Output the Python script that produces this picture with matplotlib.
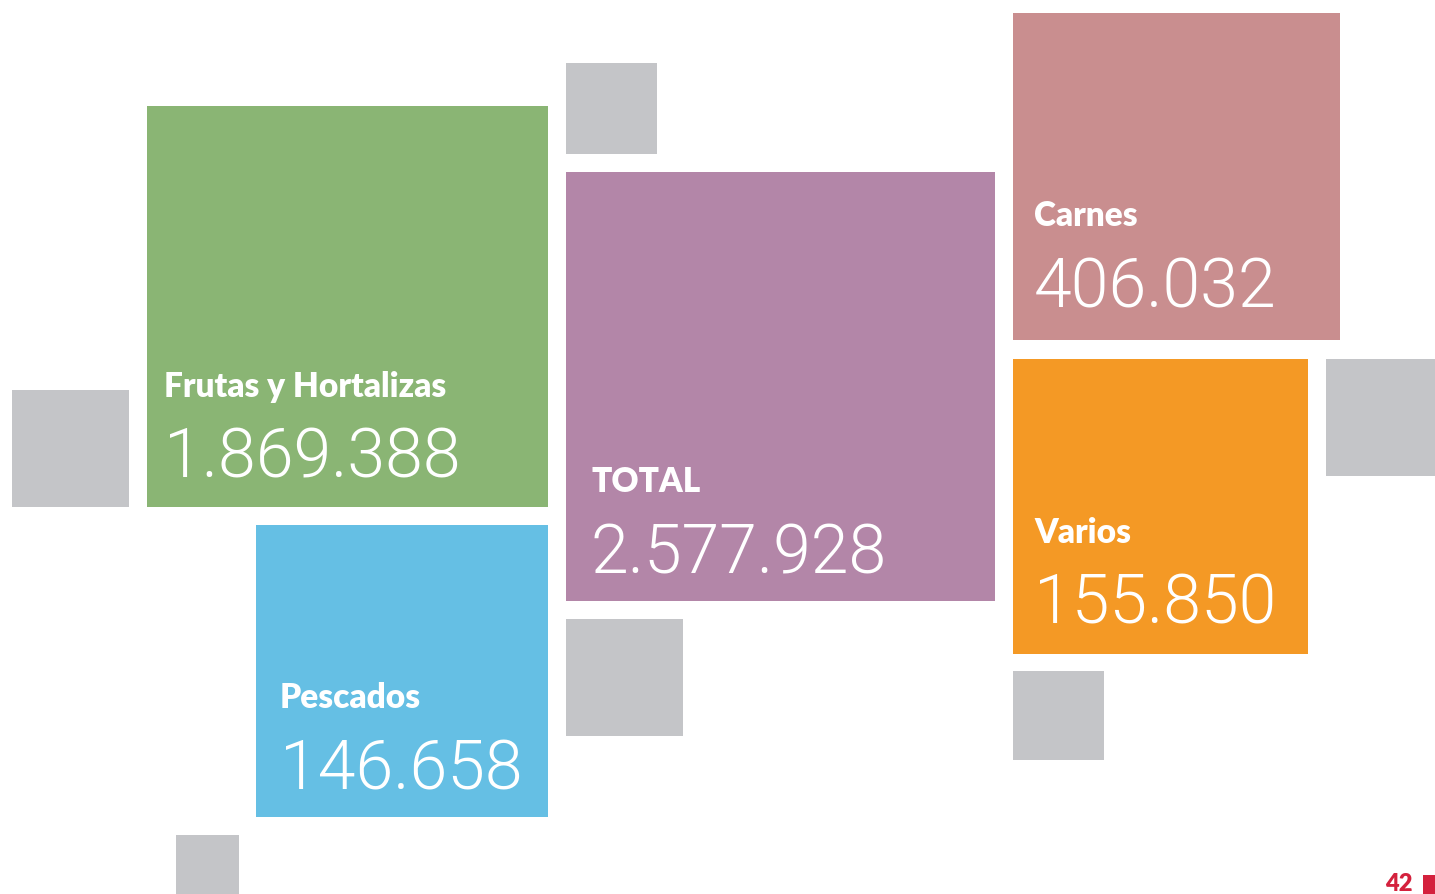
import matplotlib.pyplot as plt
from matplotlib.patches import Rectangle

categories = ['Frutas y Hortalizas', 'Pescados', 'TOTAL', 'Carnes', 'Varios']
values = ['1.869.388', '146.658', '2.577.928', '406.032', '155.850']
colors = ['#8ab574', '#65bfe4', '#b386a8', '#c98e8f', '#f49925']

# layout in pixels: left, top, side, text x, label baseline, value baseline
boxes = [
  (147, 106, 401, 164, 397, 478),
  (256, 525, 292, 280, 708, 789),
  (566, 172, 429, 591, 492, 573),
  (1013, 13, 327, 1034, 226, 307),
  (1013, 359, 295, 1034, 543, 624),
]
grey_boxes = [
  (566, 63, 91, 91),
  (12, 390, 117, 117),
  (1326, 359, 109, 117),
  (566, 619, 117, 117),
  (1013, 671, 91, 89),
  (176, 835, 63, 63),
]

fig = plt.figure(figsize=(14.35, 8.94), dpi=100)
ax = fig.add_axes([0, 0, 1, 1])
ax.set_xlim(0, 1435)
ax.set_ylim(894, 0)
ax.axis('off')

for x, y, w, h in grey_boxes:
  ax.add_patch(Rectangle((x, y), w, h, color='#c4c5c8', lw=0))

for name, val, col, (x, y, s, tx, ly, vy) in zip(categories, values, colors, boxes):
  ax.add_patch(Rectangle((x, y), s, s, color=col, lw=0))
  ax.text(tx, ly, name, color='white', fontsize=24, fontweight='heavy',
          family='Lato', va='baseline', ha='left')
  ax.text(tx, vy, val, color='white', fontsize=49, fontweight=300,
          family='Roboto', va='baseline', ha='left')

# page number
ax.add_patch(Rectangle((1423, 875), 12, 19, color='#d4213d', lw=0))
ax.text(1413, 891, '42', color='#d4213d', fontsize=17, fontweight='heavy',
        family='Lato', va='baseline', ha='right')

fig.savefig('out.png', dpi=100)
